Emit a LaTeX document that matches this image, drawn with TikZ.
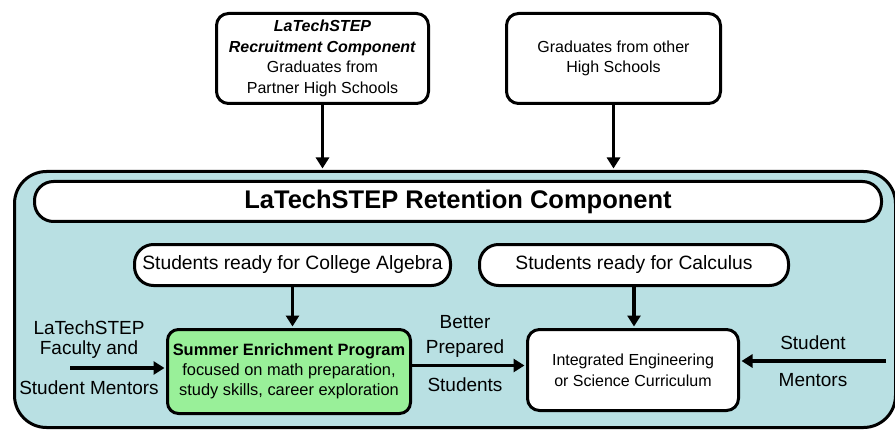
\documentclass[tikz,border=0pt]{standalone}
\usepackage{fontspec}
\setmainfont{Liberation Sans}
\usetikzlibrary{arrows.meta}
\definecolor{retentionBlue}{RGB}{185,224,227}
\definecolor{enrichGreen}{RGB}{153,240,153}
\tikzset{box/.style={draw, line width=3pt, rounded corners=12pt, fill=white,
        align=center, inner sep=0pt},
    pill/.style={box, rounded corners=19pt},
    flow/.style={line width=3.5pt, shorten >=1.5pt,
        -{Triangle[length=11pt,width=13pt]}},
    sidetext/.style={align=center, inner sep=0pt, font=\fontsize{19}{22}\selectfont},
    }

\begin{document}
\begin{tikzpicture}[x=1pt, y=-1pt]
	\useasboundingbox (0,0) rectangle (895,433);
	% incoming students
	\node[box, minimum width=212pt, minimum height=90pt, font=\fontsize{16}{20.5}\selectfont]
		(recruitBox) at (322.5,58.5)
		{\textbf{\textit{LaTechSTEP}}\\\textbf{\textit{Recruitment Component}}\\Graduates from\\Partner High Schools};
	\node[box, minimum width=214pt, minimum height=90pt, font=\fontsize{16}{20}\selectfont]
		(otherHS) at (613.5,58.5) {\raisebox{-4pt}{\parbox{200pt}{\centering Graduates from other\\High Schools}}};
	% retention component
	\node[draw, line width=3pt, fill=retentionBlue, rounded corners=32pt,
		minimum width=881pt, minimum height=256pt] (retention) at (455,299.5) {};
	\node[pill, minimum width=847pt, minimum height=40pt, font=\fontsize{25.5}{30}\selectfont\bfseries]
		(titleBar) at (458,201.5) {LaTechSTEP Retention Component};
	\node[pill, minimum width=316pt, minimum height=41pt, font=\fontsize{19.3}{22}\selectfont]
		(algebraBox) at (292.5,265) {Students ready for College Algebra};
	\node[pill, minimum width=309pt, minimum height=41pt, font=\fontsize{19.3}{22}\selectfont]
		(calculusBox) at (634,265) {Students ready for Calculus};
	\node[box, fill=enrichGreen, rounded corners=11pt, minimum width=243pt, minimum height=84pt,
		font=\fontsize{16.4}{20}\selectfont] (summerProg) at (289,371.5)
		{\textbf{Summer Enrichment Program}\\focused on math preparation,\\study skills, career exploration};
	\node[box, minimum width=211pt, minimum height=81pt, font=\fontsize{16}{21}\selectfont]
		(curriculum) at (633,370) {Integrated Engineering\\or Science Curriculum};
	% side labels
	\node[sidetext] (facultyText) at (89,358) {LaTechSTEP\\[-2pt]Faculty and\\[18pt]Student Mentors};
	\node[sidetext] (betterText) at (465,353.5) {Better\\[3pt]Prepared\\[16pt]Students};
	\node[sidetext] (mentorText) at (813,361.5) {Student\\[15pt]Mentors};
	\coordinate (facultyIn) at (70,368);
	\coordinate (mentorIn) at (886,361);
	\coordinate (betterOut) at ([yshift=6pt]summerProg.east);
	% arrows
	\draw[flow] (recruitBox.south) -- (recruitBox.south |- retention.north);
	\draw[flow] (otherHS.south) -- (otherHS.south |- retention.north);
	\draw[flow] (algebraBox.south) -- (algebraBox.south |- summerProg.north);
	\draw[flow] (calculusBox.south) -- (calculusBox.south |- curriculum.north);
	\draw[flow] (facultyIn) -- (facultyIn -| summerProg.west);
	\draw[flow] (betterOut) -- (betterOut -| curriculum.west);
	\draw[flow] (mentorIn) -- (mentorIn -| curriculum.east);
\end{tikzpicture}
\end{document}
